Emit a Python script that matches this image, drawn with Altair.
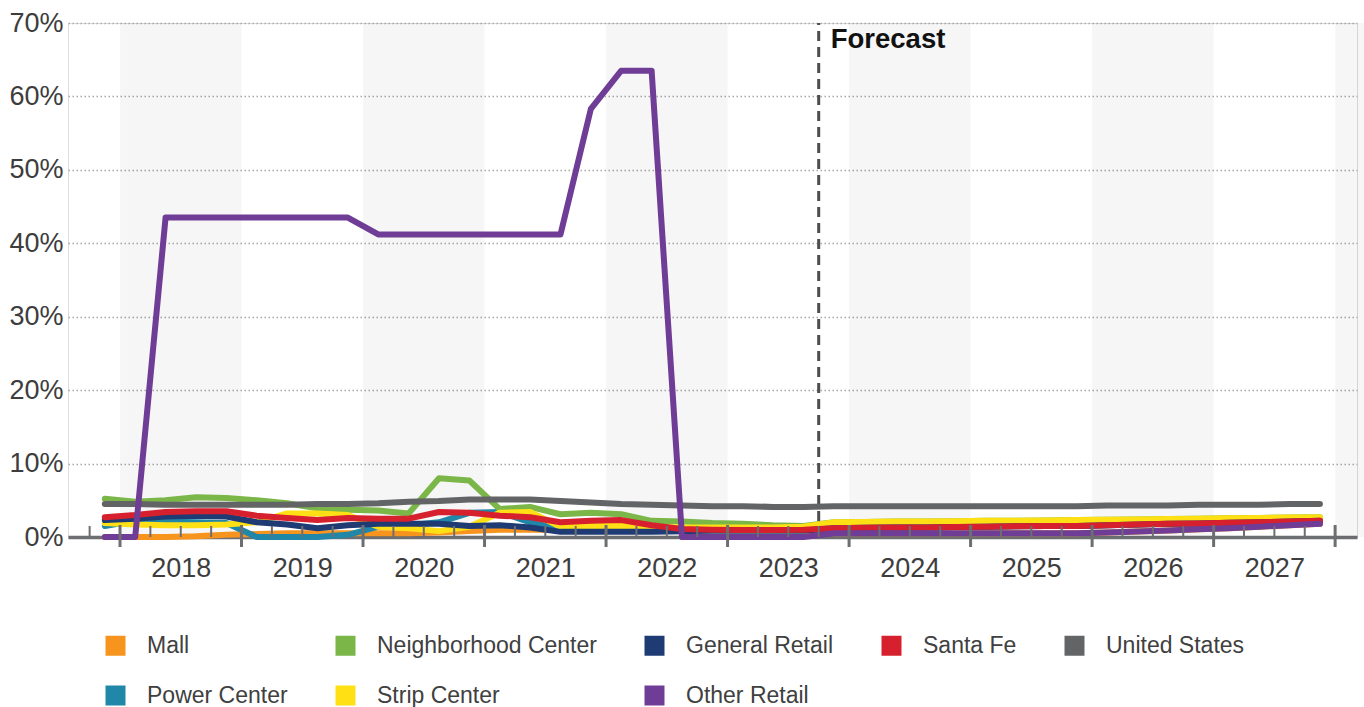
import altair as alt
import pandas as pd

# Quarterly series, 2017Q4 through 2027Q4 (forecast from 2023Q4)
quarters = [f"{y}Q{q}" for y in range(2017, 2028) for q in range(1, 5)][3:]

mall = [0.0, 0.0, 0.0, 0.1, 0.3, 0.4, 0.5, 0.5, 0.5, 0.5, 0.5, 0.6, 0.8, 1.0,
        1.0, 1.0, 1.1, 1.2, 1.1, 1.0, 0.9, 0.9, 0.9, 0.9,
        0.5, 0.5, 0.5, 0.5, 0.5, 0.5, 0.5, 0.5, 0.5, 0.6, 0.75, 0.9, 1.05,
        1.2, 1.4, 1.6, 1.8]
power_center = [1.5, 2.2, 2.1, 2.0, 1.9, 0.0, 0.0, 0.0, 0.3, 1.4, 1.6, 2.0,
                3.3, 3.4, 2.0, 1.1, 1.0, 0.9, 0.9, 0.9, 0.9, 0.9, 0.9, 0.9,
                1.2, 1.25, 1.3, 1.3, 1.35, 1.4, 1.45, 1.5, 1.5, 1.6, 1.7,
                1.8, 1.85, 1.95, 2.0, 2.1, 2.2]
neighborhood_center = [5.2, 4.8, 5.0, 5.4, 5.3, 5.0, 4.6, 3.9, 3.7, 3.6, 3.2,
                       8.0, 7.7, 3.8, 4.1, 3.1, 3.3, 3.1, 2.2, 2.1, 1.9, 1.8,
                       1.6, 1.5,
                       2.0, 2.05, 2.1, 2.1, 2.15, 2.2, 2.2, 2.25, 2.3, 2.35,
                       2.4, 2.45, 2.5, 2.55, 2.6, 2.65, 2.7]
strip_center = [1.9, 1.7, 1.6, 1.6, 1.7, 2.0, 3.2, 3.2, 3.0, 1.4, 1.2, 0.8,
                1.4, 3.3, 3.4, 1.4, 1.5, 1.5, 1.4, 1.3, 1.3, 1.3, 1.3, 1.4,
                2.0, 2.05, 2.1, 2.1, 2.15, 2.2, 2.2, 2.25, 2.3, 2.35, 2.4,
                2.45, 2.5, 2.55, 2.6, 2.65, 2.7]
general_retail = [2.3, 2.5, 2.8, 2.9, 2.8, 2.0, 1.7, 1.2, 1.6, 1.8, 1.8, 1.8,
                  1.5, 1.6, 1.3, 0.7, 0.7, 0.7, 0.7, 0.8, 0.9, 0.9, 0.9, 0.9,
                  1.2, 1.25, 1.3, 1.3, 1.35, 1.4, 1.45, 1.5, 1.5, 1.6, 1.7,
                  1.8, 1.85, 1.95, 2.0, 2.1, 2.2]
santa_fe = [2.7, 3.0, 3.4, 3.5, 3.5, 2.9, 2.6, 2.3, 2.6, 2.5, 2.5, 3.4, 3.3,
            2.9, 2.7, 2.0, 2.2, 2.3, 1.6, 1.1, 1.0, 0.95, 0.95, 1.0,
            1.2, 1.25, 1.3, 1.3, 1.35, 1.4, 1.45, 1.5, 1.5, 1.6, 1.7, 1.8,
            1.85, 1.95, 2.0, 2.1, 2.2]
united_states = [4.5, 4.5, 4.4, 4.4, 4.4, 4.4, 4.4, 4.5, 4.5, 4.6, 4.8, 4.9,
                 5.1, 5.1, 5.1, 4.9, 4.7, 4.5, 4.4, 4.3, 4.2, 4.2, 4.1, 4.1,
                 4.2, 4.2, 4.2, 4.2, 4.2, 4.2, 4.2, 4.2, 4.2, 4.3, 4.3, 4.3,
                 4.4, 4.4, 4.4, 4.5, 4.5]
other_retail = [0.0, 0.0, 43.5, 43.5, 43.5, 43.5, 43.5, 43.5, 43.5, 41.2,
                41.2, 41.2, 41.2, 41.2, 41.2, 41.2, 58.3, 63.5, 63.5, 0.0,
                0.0, 0.0, 0.0, 0.0,
                0.5, 0.5, 0.5, 0.5, 0.5, 0.5, 0.5, 0.5, 0.5, 0.6, 0.75, 0.9,
                1.05, 1.2, 1.4, 1.6, 1.8]

# Legend order (row-major, five columns) and colours
legend_order = ["Mall", "Neighborhood Center", "General Retail", "Santa Fe",
                "United States", "Power Center", "Strip Center", "Other Retail"]
legend_colors = ["#F7941D", "#7AB648", "#1F3B73", "#D7202E",
                 "#636466", "#2187A8", "#FFE015", "#6F3C96"]

# Drawing order, bottom to top
series = [
    ("Mall", mall),
    ("Power Center", power_center),
    ("Neighborhood Center", neighborhood_center),
    ("Strip Center", strip_center),
    ("General Retail", general_retail),
    ("Santa Fe", santa_fe),
    ("United States", united_states),
    ("Other Retail", other_retail),
]

years = list(range(2018, 2028))
shaded_years = [2018, 2020, 2022, 2024, 2026, 2028]
forecast_start = 2023.75


def quarter_mid(label):
    y, q = int(label[:4]), int(label[5])
    return y + (q - 0.5) / 4


rows = []
for name, vals in series:
    for ql, v in zip(quarters, vals):
        rows.append({"series": name, "quarter": ql, "t": quarter_mid(ql), "value": v})
df = pd.DataFrame(rows)

bands = pd.DataFrame({"t": shaded_years, "t2": [y + 1 for y in shaded_years]})
major_ticks = pd.DataFrame({"t": list(range(2018, 2029))})
minor_ticks = pd.DataFrame({"t": [y + q / 4 for y in range(2017, 2028) for q in (1, 2, 3)
                                  if 2017.6 < y + q / 4 < 2028.1]})

FONT = "Liberation Sans"
AXIS_GREY = "#6d6e71"
TEXT = "#3d3d3d"

x_scale = alt.Scale(domain=[2017.572, 2028.18], nice=False, zero=False)
y_scale = alt.Scale(domain=[0, 70], nice=False)
color_scale = alt.Scale(domain=legend_order, range=legend_colors)

legend = alt.Legend(
    title=None, orient="none", legendX=36, legendY=611,
    direction="horizontal", columns=5, columnPadding=46, rowPadding=26,
    symbolType="square", symbolSize=400, symbolStrokeWidth=0,
    symbolOpacity=1, labelFontSize=23, labelFont=FONT, labelLimit=400,
    labelColor="#404040", labelOffset=20, padding=0,
)
color_enc = alt.Color("series:N", scale=color_scale, legend=legend)

x_enc = alt.X(
    "t:Q", scale=x_scale, title=None,
    axis=alt.Axis(values=[y + 0.5 for y in years], labelExpr="floor(datum.value)",
                  ticks=False, grid=False, domainColor=AXIS_GREY, domainWidth=3.5,
                  labelFontSize=27, labelColor=TEXT, labelFont=FONT,
                  labelBaseline="alphabetic", labelPadding=39, labelFlush=False),
)
y_enc = alt.Y(
    "value:Q", scale=y_scale, title=None,
    axis=alt.Axis(values=list(range(0, 71, 10)), labelExpr="datum.value + '%'",
                  ticks=False, domain=False, grid=True, gridColor="#a8a8a8",
                  gridDash=[1.5, 2.5], gridWidth=1.3, labelFontSize=27,
                  labelColor=TEXT, labelFont=FONT, labelPadding=5),
)

band_layer = alt.Chart(bands).mark_rect(color="#000000", opacity=0.035).encode(
    x=alt.X("t:Q", scale=x_scale), x2="t2:Q",
    y=alt.datum(0, scale=y_scale), y2=alt.datum(70),
)

forecast_rule = alt.Chart(pd.DataFrame({"t": [forecast_start]})).mark_rule(
    color="#4d4d4d", strokeWidth=3, strokeDash=[10, 6]
).encode(x=alt.X("t:Q", scale=x_scale), y=alt.datum(0), y2=alt.datum(70))

forecast_text = alt.Chart(pd.DataFrame({"t": [forecast_start], "label": ["Forecast"]})).mark_text(
    align="left", baseline="alphabetic", dx=12, fontSize=27.5, fontWeight="bold",
    font=FONT, color="#111111"
).encode(x=alt.X("t:Q", scale=x_scale), y=alt.value(25), text="label:N")

# Legend carrier: filled squares, no rows drawn
legend_layer = alt.Chart(df).transform_filter("datum.value < -1").mark_point(
    filled=True, shape="square", opacity=1
).encode(x=x_enc, y=y_enc, color=color_enc)

line_layers = []
for name, _ in series:
    line_layers.append(
        alt.Chart(df[df["series"] == name]).mark_line(
            strokeWidth=6, strokeCap="round", strokeJoin="round"
        ).encode(x=x_enc, y=y_enc, color=color_enc)
    )

minor_layer = alt.Chart(minor_ticks).mark_rule(color=AXIS_GREY, strokeWidth=2).encode(
    x=alt.X("t:Q", scale=x_scale), y=alt.value(503), y2=alt.value(514)
)
major_layer = alt.Chart(major_ticks).mark_rule(color=AXIS_GREY, strokeWidth=3).encode(
    x=alt.X("t:Q", scale=x_scale), y=alt.value(502), y2=alt.value(524)
)

chart = alt.layer(
    band_layer, forecast_rule, legend_layer, *line_layers, minor_layer,
    major_layer, forecast_text
).properties(
    width=1289, height=514,
    autosize=alt.AutoSizeParams(type="none"),
    padding={"left": 68, "top": 23, "right": 7, "bottom": 170},
).configure_view(stroke=None).configure(font=FONT)

chart.save("out.html", embed_options={"renderer": "svg", "actions": False})
